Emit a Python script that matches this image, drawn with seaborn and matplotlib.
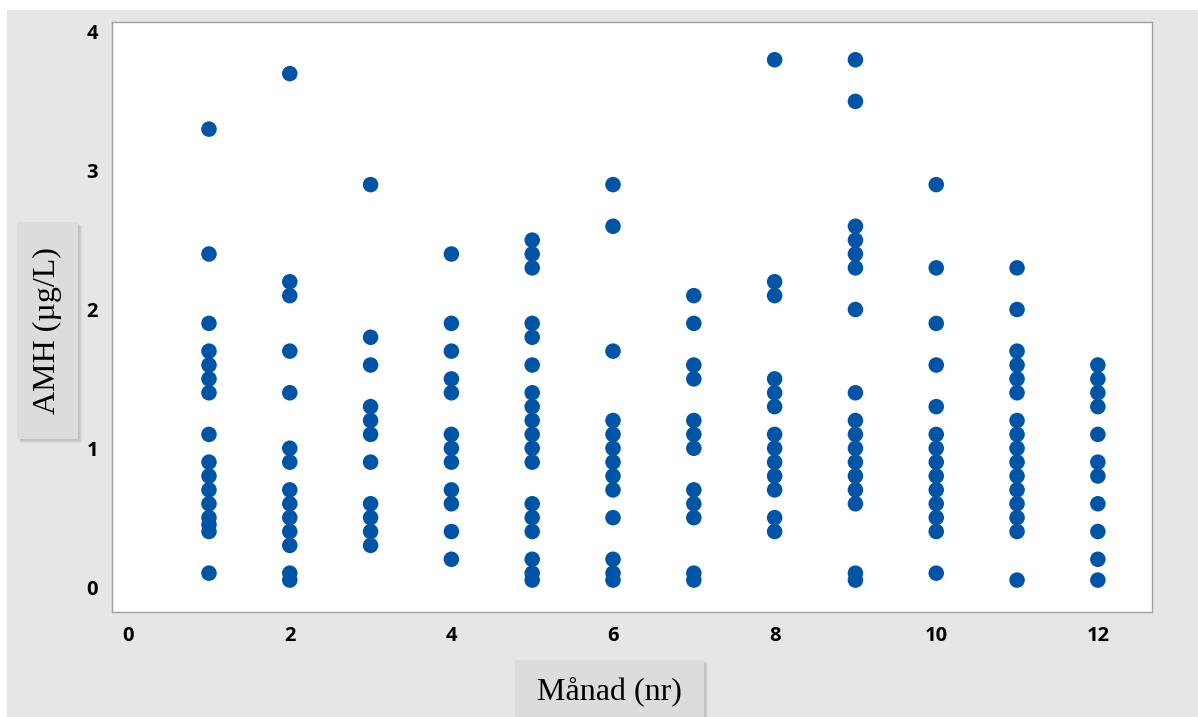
import pandas as pd
import matplotlib.pyplot as plt
import seaborn as sns
from matplotlib.patches import Rectangle

# AMH values (µg/L) read per month
month_1 = [3.3, 2.4, 1.9, 1.7, 1.6, 1.5, 1.4, 1.1, 0.9, 0.8, 0.7, 0.6, 0.5, 0.45, 0.4, 0.1]
month_2 = [3.7, 2.2, 2.1, 1.7, 1.4, 1.0, 0.9, 0.7, 0.6, 0.5, 0.4, 0.3, 0.1, 0.05]
month_3 = [2.9, 1.8, 1.6, 1.3, 1.2, 1.1, 0.9, 0.6, 0.5, 0.4, 0.3]
month_4 = [2.4, 1.9, 1.7, 1.5, 1.4, 1.1, 1.0, 0.9, 0.7, 0.6, 0.4, 0.2]
month_5 = [2.5, 2.4, 2.3, 1.9, 1.8, 1.6, 1.4, 1.3, 1.2, 1.1, 1.0, 0.9, 0.6, 0.5, 0.4, 0.2, 0.1, 0.05]
month_6 = [2.9, 2.6, 1.7, 1.2, 1.1, 1.0, 0.9, 0.8, 0.7, 0.5, 0.2, 0.1, 0.05]
month_7 = [2.1, 1.9, 1.6, 1.5, 1.2, 1.1, 1.0, 0.7, 0.6, 0.5, 0.1, 0.05]
month_8 = [3.8, 2.2, 2.1, 1.5, 1.4, 1.3, 1.1, 1.0, 0.9, 0.8, 0.7, 0.5, 0.4]
month_9 = [3.8, 3.5, 2.6, 2.5, 2.4, 2.3, 2.0, 1.4, 1.2, 1.1, 1.0, 0.9, 0.8, 0.7, 0.6, 0.1, 0.05]
month_10 = [2.9, 2.3, 1.9, 1.6, 1.3, 1.1, 1.0, 0.9, 0.8, 0.7, 0.6, 0.5, 0.4, 0.1]
month_11 = [2.3, 2.0, 1.7, 1.6, 1.5, 1.4, 1.2, 1.1, 1.0, 0.9, 0.8, 0.7, 0.6, 0.5, 0.4, 0.05]
month_12 = [1.6, 1.5, 1.4, 1.3, 1.1, 0.9, 0.8, 0.6, 0.4, 0.2, 0.05]

all_months = [month_1, month_2, month_3, month_4, month_5, month_6,
              month_7, month_8, month_9, month_10, month_11, month_12]

x_ticks = [0, 2, 4, 6, 8, 10, 12]
y_ticks = [0, 1, 2, 3, 4]

rows = []
for m, vals in enumerate(all_months, start=1):
    for v in vals:
        rows.append({"Månad": m, "AMH": v})
df = pd.DataFrame(rows)

sns.set_style("white")
plt.rcParams['font.family'] = ['Open Sans', 'DejaVu Sans']

W, H = 1198, 717
fig = plt.figure(figsize=(W / 100, H / 100), dpi=100)
fig.patch.set_facecolor("white")

# grey Minitab-like background
fig.patches.append(Rectangle((7 / W, 0), 1 - 7 / W, 1 - 10 / H, transform=fig.transFigure,
                             facecolor="#e6e6e6", edgecolor="none", zorder=-5))

ax = fig.add_axes([112 / W, 1 - 612 / H, (1152 - 112) / W, (612 - 22) / H])
ax.set_zorder(5)
ax.set_facecolor("white")

sns.scatterplot(data=df, x="Månad", y="AMH", color="#0054a6", s=125,
                edgecolor="none", linewidth=0, ax=ax, zorder=3)

ax.set_xlim(-0.2, 12.67)
ax.set_ylim(-0.18, 4.072)
ax.set_xticks(x_ticks)
ax.set_yticks(y_ticks)
ax.set_xlabel("")
ax.set_ylabel("")
for s in ax.spines.values():
    s.set_color("#a0a0a0")
    s.set_linewidth(1.0)
ax.tick_params(axis="both", direction="out", length=5, width=1, color="#a0a0a0",
               labelsize=14.5, labelcolor="black", pad=5)
for lab in ax.get_xticklabels() + ax.get_yticklabels():
    lab.set_fontweight("bold")

# axis label boxes with a soft shadow
def label_box(x0, y0, x1, y1, text, rotation):
    fx, fy = x0 / W, 1 - y1 / H
    fw, fh = (x1 - x0) / W, (y1 - y0) / H
    for off, alpha in [(4, 0.10), (3, 0.12), (2, 0.15)]:
        fig.patches.append(Rectangle((fx + off / W, fy - off / H), fw, fh,
                                     transform=fig.transFigure, facecolor="#808080",
                                     alpha=alpha, edgecolor="none", zorder=1))
    fig.patches.append(Rectangle((fx, fy), fw, fh, transform=fig.transFigure,
                                 facecolor="#dcdcdc", edgecolor="none", zorder=2))
    fig.text(fx + fw / 2, fy + fh / 2, text, rotation=rotation, ha="center", va="center",
             family=["Liberation Serif", "DejaVu Serif"], fontsize=23, color="black",
             zorder=3)

label_box(17, 222, 78, 439, "AMH (µg/L)", 90)
label_box(515, 660, 704, 722, "Månad (nr)", 0)

fig.savefig("out.png", dpi=100)
